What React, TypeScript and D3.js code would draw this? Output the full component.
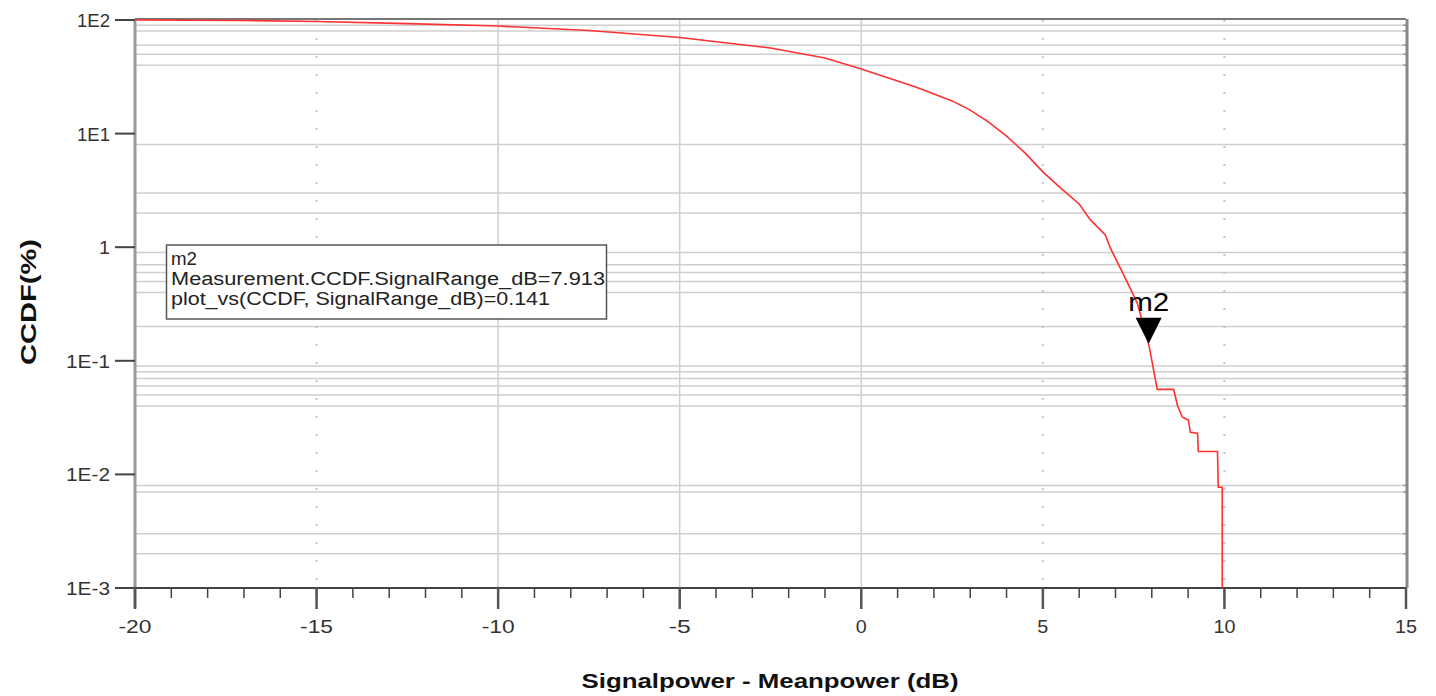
import React from "react";
import * as d3 from "d3";

// ---- data ----
const curveX = [-20, -17.0, -15.0, -12.5, -10.0, -7.5, -5.0, -2.5, -1.0, 0.0, 0.5, 1.0, 1.5, 2.0, 2.5, 3.0, 3.5, 4.0, 4.5, 5.0, 5.5, 6.0, 6.31, 6.72, 6.86, 7.27, 7.6, 7.913, 7.96, 8.15, 8.6, 8.71, 8.84, 9.01, 9.06, 9.26, 9.28, 9.81, 9.83, 9.94, 9.94];
const curveY = [100, 99, 97, 93, 88.5, 80.8, 70.2, 56.7, 46.3, 37.1, 32.8, 29.0, 25.7, 22.3, 19.4, 16.1, 12.7, 9.5, 6.8, 4.6, 3.3, 2.4, 1.74, 1.28, 0.98, 0.535, 0.322, 0.141, 0.118, 0.056, 0.056, 0.04, 0.032, 0.03, 0.0235, 0.023, 0.0159, 0.0159, 0.0077, 0.0077, 0.001];

const xTicks = [-20, -15, -10, -5, 0, 5, 10, 15];
const xMinorTicks = d3.range(-20, 15.001, 1);
const yTicks = [100, 10, 1, 0.1, 0.01, 0.001];
const yTickLabels = ["1E2", "1E1", "1", "1E-1", "1E-2", "1E-3"];
const hGrid = [90, 80, 60, 50, 40, 8, 3, 2, 0.9, 0.7, 0.6, 0.5, 0.4, 0.2, 0.09, 0.08, 0.07, 0.06, 0.05, 0.04, 0.008, 0.007, 0.003, 0.002];
const vGridSolid = [-10, -5, 0];
const vGridDotted = [-15, 5, 10];

const markerName = "m2";
const markerX = 7.913;
const markerY = 0.141;
const markerLines = ["m2", "Measurement.CCDF.SignalRange_dB=7.913", "plot_vs(CCDF, SignalRange_dB)=0.141"];

const xTitle = "Signalpower - Meanpower (dB)";
const yTitle = "CCDF(%)";

export default function App() {
  const W = 1436, H = 696;
  const left = 135, right = 1406, top = 20, bottom = 588;
  const x = d3.scaleLinear().domain([-20, 15]).range([left, right]);
  const y = d3.scaleLog().domain([0.001, 100]).range([bottom, top]);
  const line = d3.line<number>().x((_, i) => x(curveX[i])).y((_, i) => y(curveY[i]));
  const font = "Arial, 'Liberation Sans', sans-serif";
  const mx = x(markerX), my = y(markerY);
  const boxLens = [26, 434, 379];

  return (
    <svg width={W} height={H} style={{ position: "absolute", left: 0, top: 0, background: "#fff" }} fontFamily={font}>
      <rect x={0} y={0} width={W} height={H} fill="#fff" />
      {/* horizontal grid */}
      {hGrid.map((v, i) => (
        <line key={"h" + i} x1={left} x2={right} y1={y(v)} y2={y(v)} stroke="#cfcfcf" strokeWidth={1.5} />
      ))}
      {/* vertical grid */}
      {vGridSolid.map((v, i) => (
        <line key={"vs" + i} x1={x(v)} x2={x(v)} y1={top} y2={bottom} stroke="#cfcfcf" strokeWidth={1.5} />
      ))}
      {vGridDotted.map((v, i) => (
        <line key={"vd" + i} x1={x(v)} x2={x(v)} y1={top} y2={bottom} stroke="#c4c4c4" strokeWidth={2} strokeDasharray="2 16" />
      ))}
      {/* right border ticks */}
      {hGrid.map((v, i) => (
        <line key={"rt" + i} x1={right - 3} x2={right + 2} y1={y(v)} y2={y(v)} stroke="#999" strokeWidth={1.5} />
      ))}
      {/* borders */}
      <line x1={left} x2={right} y1={top - 1} y2={top - 1} stroke="#777" strokeWidth={2} />
      <line x1={right + 1} x2={right + 1} y1={top - 1} y2={bottom} stroke="#888" strokeWidth={3} />
      <line x1={left} x2={left} y1={top - 1} y2={bottom + 20} stroke="#999" strokeWidth={3} />
      <line x1={115} x2={right} y1={bottom} y2={bottom} stroke="#444" strokeWidth={2} />
      {/* y ticks */}
      {yTicks.map((v, i) => (
        <g key={"yt" + i}>
          <line x1={115} x2={left} y1={y(v)} y2={y(v)} stroke="#444" strokeWidth={2} />
          <text x={110} y={y(v) + 7} textAnchor="end" fontSize={19} fill="#333" textLength={yTickLabels[i].length * 11} lengthAdjust="spacingAndGlyphs">{yTickLabels[i]}</text>
        </g>
      ))}
      {/* x ticks */}
      {xMinorTicks.map((v, i) => (
        <line key={"xm" + i} x1={x(v)} x2={x(v)} y1={bottom} y2={bottom + 10} stroke="#444" strokeWidth={1.5} />
      ))}
      {xTicks.map((v, i) => (
        <g key={"xt" + i}>
          <line x1={x(v)} x2={x(v)} y1={bottom} y2={bottom + 21} stroke="#555" strokeWidth={2.5} />
          <text x={x(v)} y={633} textAnchor="middle" fontSize={19} fill="#333" textLength={String(v).length * 11} lengthAdjust="spacingAndGlyphs">{String(v)}</text>
        </g>
      ))}
      {/* curve */}
      <path d={line(curveX) || ""} fill="none" stroke="#ff3030" strokeWidth={1.6} />
      {/* marker */}
      <path d={`M${mx - 13},${my - 26} L${mx + 13},${my - 26} L${mx},${my} Z`} fill="#000" />
      <text x={mx} y={my - 33} textAnchor="middle" fontSize={26} fill="#000" textLength={41} lengthAdjust="spacingAndGlyphs">{markerName}</text>
      {/* marker box */}
      <rect x={166.5} y={245} width={440} height={74} fill="#fff" stroke="#555" strokeWidth={1.5} />
      {markerLines.map((t, i) => (
        <text key={"ml" + i} x={171} y={265 + i * 20} fontSize={18} fill="#222" textLength={boxLens[i]} lengthAdjust="spacingAndGlyphs">{t}</text>
      ))}
      {/* axis titles */}
      <text x={770} y={688} textAnchor="middle" fontSize={21} fontWeight="bold" fill="#111" textLength={377} lengthAdjust="spacingAndGlyphs">{xTitle}</text>
      <text transform={`translate(36,302) rotate(-90)`} textAnchor="middle" fontSize={22} fontWeight="bold" fill="#111" textLength={126} lengthAdjust="spacingAndGlyphs">{yTitle}</text>
    </svg>
  );
}
